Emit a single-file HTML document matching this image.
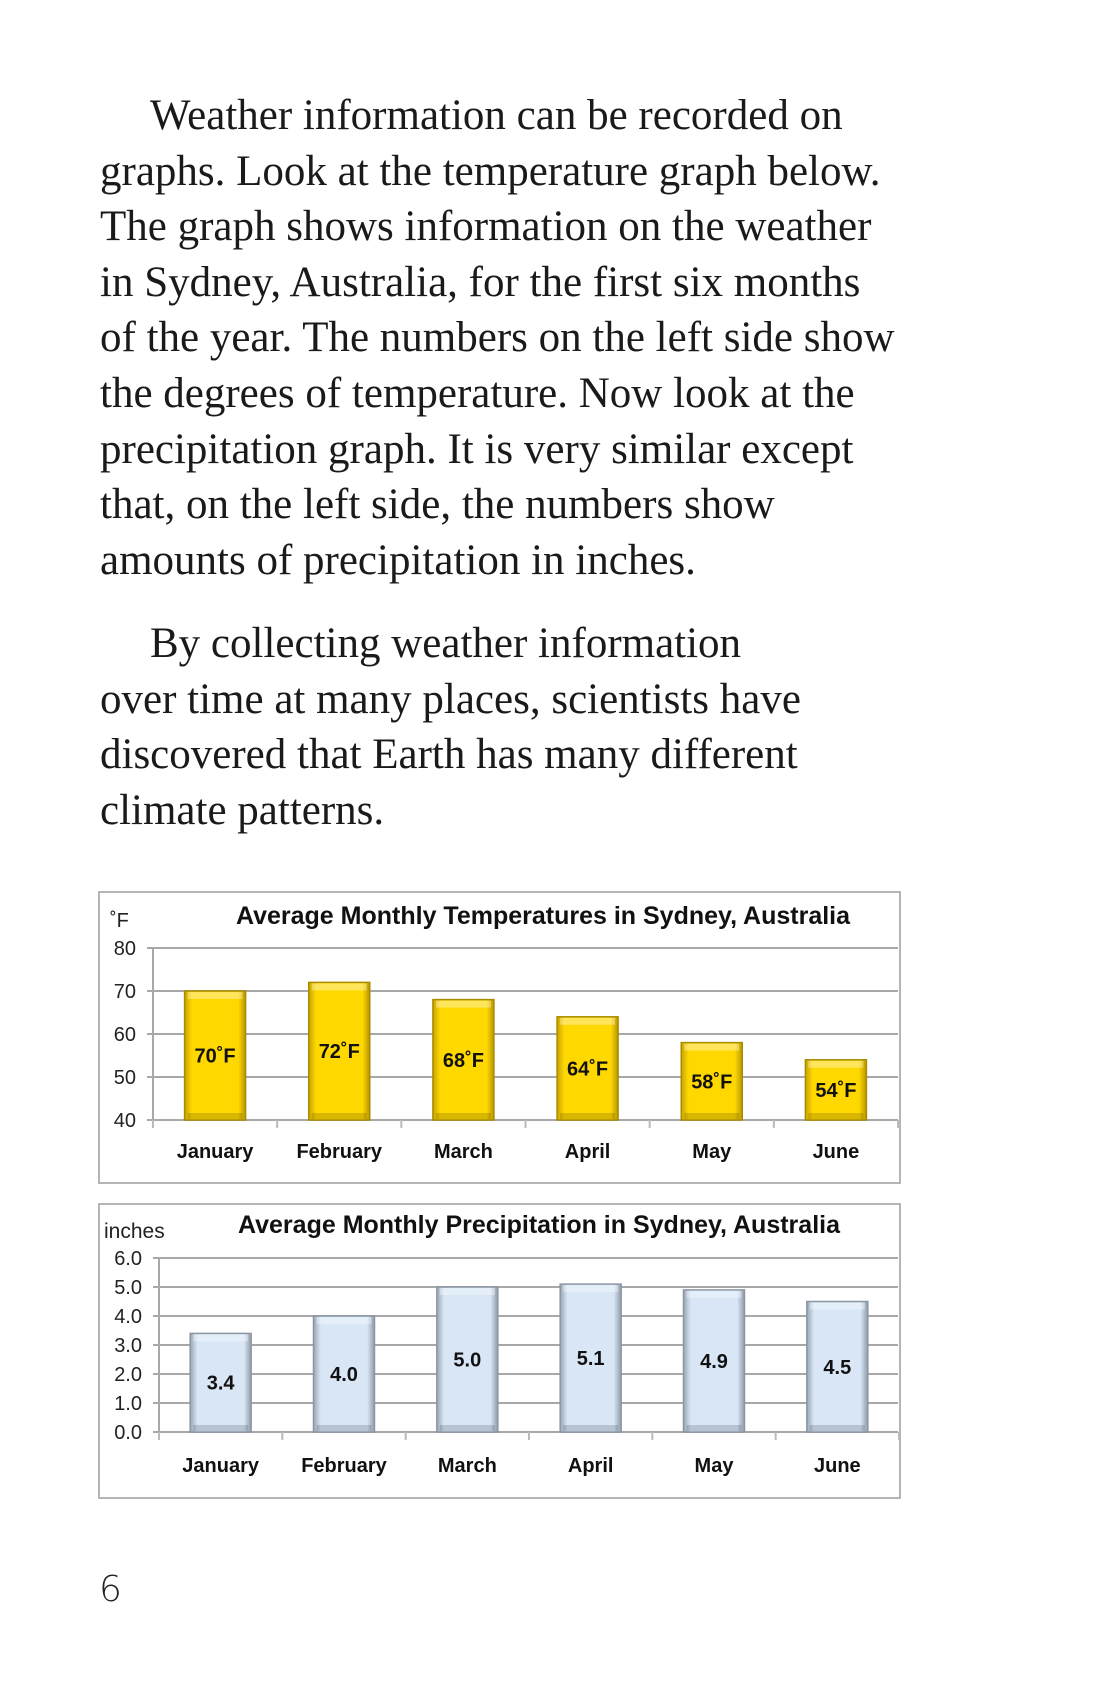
<!DOCTYPE html>
<html><head><meta charset="utf-8">
<style>
html,body{margin:0;padding:0;background:#fff;}
body{width:1100px;height:1700px;position:relative;overflow:hidden;}
.ln{position:absolute;left:100px;font-family:"Liberation Serif",serif;font-size:43px;color:#1a1a1a;white-space:nowrap;line-height:40px;}
svg{position:absolute;left:0;top:0;}
</style></head>
<body>
<div>
<div class="ln" style="left:150px;top:96px">Weather information can be recorded on</div>
<div class="ln" style="top:151.6px">graphs. Look at the temperature graph below.</div>
<div class="ln" style="top:207.2px">The graph shows information on the weather</div>
<div class="ln" style="top:262.8px">in Sydney, Australia, for the first six months</div>
<div class="ln" style="top:318.4px">of the year. The numbers on the left side show</div>
<div class="ln" style="top:374px">the degrees of temperature. Now look at the</div>
<div class="ln" style="top:429.6px">precipitation graph. It is very similar except</div>
<div class="ln" style="top:485.2px">that, on the left side, the numbers show</div>
<div class="ln" style="top:540.8px">amounts of precipitation in inches.</div>
<div class="ln" style="left:150px;top:624px">By collecting weather information</div>
<div class="ln" style="top:679.6px">over time at many places, scientists have</div>
<div class="ln" style="top:735.2px">discovered that Earth has many different</div>
<div class="ln" style="top:790.8px">climate patterns.</div>
</div>
<div style="position:absolute;left:99px;top:1569px;font-family:'DejaVu Sans','Liberation Sans',sans-serif;font-size:36px;font-weight:300;color:#222;">6</div>

<svg id="charts" width="1100" height="1700">
<defs>
<linearGradient id="yg" x1="0" x2="1" y1="0" y2="0">
<stop offset="0" stop-color="#c9a400"/><stop offset="0.12" stop-color="#ffd800"/><stop offset="0.88" stop-color="#ffd800"/><stop offset="1" stop-color="#b89600"/>
</linearGradient>
<linearGradient id="bg" x1="0" x2="1" y1="0" y2="0">
<stop offset="0" stop-color="#9aa6b4"/><stop offset="0.12" stop-color="#d8e6f6"/><stop offset="0.88" stop-color="#d8e6f6"/><stop offset="1" stop-color="#8f9aa8"/>
</linearGradient>
</defs>
</svg>

<script>
const months = ["January","February","March","April","May","June"];
const temps = [70,72,68,64,58,54];
const tempTicks = [40,50,60,70,80];
const precip = [3.4,4.0,5.0,5.1,4.9,4.5];
const precipTicks = [0,1,2,3,4,5,6];

const NS = "http://www.w3.org/2000/svg";
const svg = document.getElementById('charts');
function mk(tag, attrs, parent, text){
  const e = document.createElementNS(NS, tag);
  for (const k in attrs) e.setAttribute(k, attrs[k]);
  if (text !== undefined) e.textContent = text;
  (parent||svg).appendChild(e);
  return e;
}

function chart(cfg){
  const g = mk('g', {});
  
  
  const frame = mk('rect', {x:cfg.box[0], y:cfg.box[1], width:cfg.box[2]-cfg.box[0], height:cfg.box[3]-cfg.box[1], fill:'#fff', stroke:'#b5b5b5', 'stroke-width':2}, g);
  
  
  const t = mk('text', {x:cfg.titleX, y:cfg.titleY, 'text-anchor':'middle', 'font-family':'Liberation Sans, sans-serif', 'font-weight':'bold', 'font-size':25, fill:'#111'}, g, cfg.title);
  
  
  const u = mk('text', {x:cfg.unitX, y:cfg.unitY, 'font-family':'Liberation Sans, sans-serif', 'font-size':cfg.unitSize, fill:'#222'}, g, cfg.unit);
  
  
  const yMin = cfg.ticks[0], yMax = cfg.ticks[cfg.ticks.length-1];
  const Y = v => cfg.y0 + (v - yMin)/(yMax - yMin)*(cfg.y1 - cfg.y0);
  const n = cfg.cats.length;
  const step = (cfg.x1 - cfg.x0)/n;
  const X = i => cfg.x0 + step*(i+0.5);
  cfg.ticks.forEach(v=>{
    const gl = mk('line', {x1:cfg.x0-6, x2:cfg.box[2]-2, y1:Y(v), y2:Y(v), stroke:'#a8a8a8', 'stroke-width':2}, g);
    
    
    const tl = mk('text', {x:cfg.x0-17, y:Y(v)+7, 'text-anchor':'end', 'font-family':'Liberation Sans, sans-serif', 'font-size':20, fill:'#222'}, g, cfg.fmtTick(v));
    
    
  });
  mk('line', {x1:cfg.x0, x2:cfg.x0, y1:cfg.y1, y2:cfg.y0+8, stroke:'#a8a8a8', 'stroke-width':2}, g);
  for (let i=0;i<=n;i++){
    const tk = mk('line', {x1:cfg.x0+step*i, x2:cfg.x0+step*i, y1:cfg.y0, y2:cfg.y0+8, stroke:'#bbb', 'stroke-width':2}, g);
    
    
  }
  cfg.vals.forEach((v,i)=>{
    const x = X(i) - cfg.bw/2, top = Y(v);
    const b = mk('rect', {x:x, y:top, width:cfg.bw, height:cfg.y0-top, fill:cfg.fill, stroke:cfg.stroke, 'stroke-width':1.5}, g);
    
    
    mk('rect', {x:x+3, y:top+1, width:cfg.bw-6, height:7, fill:'#fff', opacity:0.35}, g);
    mk('rect', {x:x+3, y:cfg.y0-7, width:cfg.bw-6, height:6, fill:'#000', opacity:0.15}, g);
    const vl = mk('text', {x:X(i), y:(top+cfg.y0)/2+7, 'text-anchor':'middle', 'font-family':'Liberation Sans, sans-serif', 'font-weight':'bold', 'font-size':20, fill:'#111'}, g, cfg.fmtVal(v));
    
    
    const ml = mk('text', {x:X(i), y:cfg.monthY, 'text-anchor':'middle', 'font-family':'Liberation Sans, sans-serif', 'font-weight':'bold', 'font-size':20, fill:'#111'}, g, cfg.cats[i]);
    
    
  });
}

chart({name:'temperature-chart', box:[99,892,900,1183], title:'Average Monthly Temperatures in Sydney, Australia',
  titleX:543, titleY:924, unit:'˚F', unitX:110, unitY:927, unitSize:20,
  x0:153, x1:898, y0:1120, y1:948, ticks:tempTicks, cats:months, vals:temps, bw:61,
  fill:'url(#yg)', stroke:'#a88c00', monthY:1158,
  fmtTick:v=>String(v), fmtVal:v=>v+'˚F'});

chart({name:'precipitation-chart', box:[99,1204,900,1498], title:'Average Monthly Precipitation in Sydney, Australia',
  titleX:539, titleY:1233, unit:'inches', unitX:104, unitY:1238, unitSize:21,
  x0:159, x1:899, y0:1432, y1:1258, ticks:precipTicks, cats:months, vals:precip, bw:61,
  fill:'url(#bg)', stroke:'#8a96a4', monthY:1472,
  fmtTick:v=>v.toFixed(1), fmtVal:v=>v.toFixed(1)});
</script>
</body></html>
